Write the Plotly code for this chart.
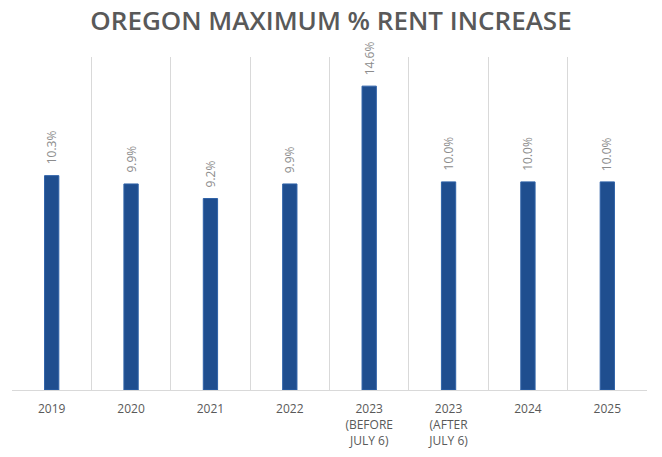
import plotly.graph_objects as go

categories = ["2019", "2020", "2021", "2022", "2023<br>(BEFORE<br>JULY 6)", "2023<br>(AFTER<br>JULY 6)", "2024", "2025"]
values = [10.3, 9.9, 9.2, 9.9, 14.6, 10.0, 10.0, 10.0]
labels = [f"{v:.1f}%" for v in values]

fig = go.Figure(go.Bar(
    x=categories, y=values,
    marker=dict(color="#1f4e8f", line=dict(color="#2f62a8", width=1)),
    width=0.18,
))
for i, (v, t) in enumerate(zip(values, labels)):
    fig.add_annotation(x=i, y=v, text=t, textangle=-90, showarrow=False,
                       xanchor="center", yanchor="bottom", yshift=9,
                       font=dict(family="Open Sans", size=12, color="#8c8c8c"))
fig.update_layout(
    width=662, height=457,
    margin=dict(l=12, r=15, t=57, b=67),
    paper_bgcolor="white", plot_bgcolor="white",
    title=dict(text="OREGON MAXIMUM % RENT INCREASE", x=0.5, xanchor="center", y=0.955, yanchor="middle",
               font=dict(family="Open Sans", size=26, color="#595959", weight=600)),
    showlegend=False,
)
fig.update_xaxes(type="category", tickson="boundaries", showgrid=True, gridcolor="#d9d9d9", gridwidth=1,
                 ticks="", showline=True, linecolor="#d9d9d9", ticklabelstandoff=8, automargin=False,
                 range=[-0.5, len(categories) - 0.5],
                 tickfont=dict(family="Open Sans", size=12, color="#595959"))
fig.update_yaxes(range=[0, 16], showgrid=False, showticklabels=False, zeroline=False)
fig.write_html("out.html", config={"displayModeBar": False},
               post_script="document.body.style.margin='0';")
